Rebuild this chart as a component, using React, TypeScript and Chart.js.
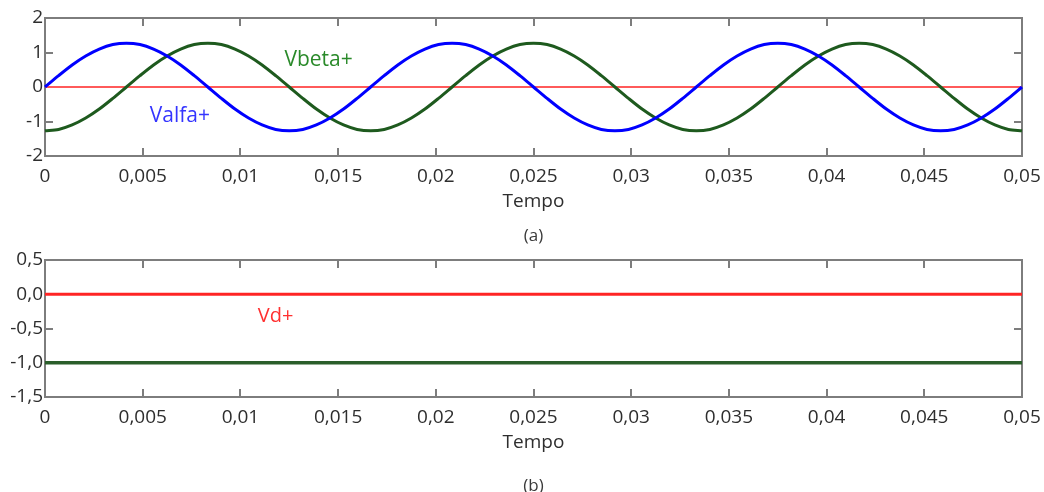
import React, { useEffect, useRef } from 'react';
import { Chart, registerables } from 'chart.js';

Chart.register(...registerables);

// ---------- data ----------
const X_MIN = 0;
const X_MAX = 0.05;
const X_STEP = 0.005;
const SAMPLE_STEP = 0.05 / 72; // sampling grid of the traces (s)

// (a) alpha-beta components (24 samples per 60 Hz cycle)
const valfaPlus = [
  0, 0.33, 0.64, 0.9, 1.1, 1.23, 1.27, 1.23, 1.1, 0.9, 0.64, 0.33,
  0, -0.33, -0.64, -0.9, -1.1, -1.23, -1.27, -1.23, -1.1, -0.9, -0.64, -0.33,
  0, 0.33, 0.64, 0.9, 1.1, 1.23, 1.27, 1.23, 1.1, 0.9, 0.64, 0.33,
  0, -0.33, -0.64, -0.9, -1.1, -1.23, -1.27, -1.23, -1.1, -0.9, -0.64, -0.33,
  0, 0.33, 0.64, 0.9, 1.1, 1.23, 1.27, 1.23, 1.1, 0.9, 0.64, 0.33,
  0, -0.33, -0.64, -0.9, -1.1, -1.23, -1.27, -1.23, -1.1, -0.9, -0.64, -0.33,
  0,
];
const vbetaPlus = [
  -1.27, -1.23, -1.1, -0.9, -0.64, -0.33, 0, 0.33, 0.64, 0.9, 1.1, 1.23,
  1.27, 1.23, 1.1, 0.9, 0.64, 0.33, 0, -0.33, -0.64, -0.9, -1.1, -1.23,
  -1.27, -1.23, -1.1, -0.9, -0.64, -0.33, 0, 0.33, 0.64, 0.9, 1.1, 1.23,
  1.27, 1.23, 1.1, 0.9, 0.64, 0.33, 0, -0.33, -0.64, -0.9, -1.1, -1.23,
  -1.27, -1.23, -1.1, -0.9, -0.64, -0.33, 0, 0.33, 0.64, 0.9, 1.1, 1.23,
  1.27, 1.23, 1.1, 0.9, 0.64, 0.33, 0, -0.33, -0.64, -0.9, -1.1, -1.23,
  -1.27,
];
const constTimes = [0, 0.05];
const zeroRefA = [0, 0];

// (b) dq components
const vdPlus = [0, 0];
const vqPlus = [-1, -1];

const yRangeA = [-2, 2];
const yStepA = 1;
const yRangeB = [-1.5, 0.5];
const yStepB = 0.5;

// ---------- styling ----------
const FONT = '"Open Sans", "Noto Sans", sans-serif';
const TEXT = '#2e2e2e';
const FRAME = '#7d7d7d';
const TICK_LEN = 8;

const fmtX = (v: number) => (Math.abs(v) < 1e-12 ? '0' : String(+v.toFixed(3)).replace('.', ','));
const fmtYA = (v: number) => String(Math.round(v));
const fmtYB = (v: number) => (Math.abs(v) < 1e-9 ? 0 : v).toFixed(1).replace('.', ',');

const pts = (xs: number[], ys: number[]) => ys.map((y, i) => ({ x: xs[i], y }));
const sampleTimes = valfaPlus.map((_, i) => i * SAMPLE_STEP);

type Label = { text: string; x: number; y: number; color: string; size: number };
type Caption = { text: string; dy: number; size: number; color: string };

function makeDecor(labels: Label[], captions: Caption[]) {
  return {
    id: 'decor',
    beforeDatasetsDraw(chart: any) {
      const { ctx, chartArea: a, scales } = chart;
      ctx.save();
      ctx.strokeStyle = FRAME;
      ctx.lineWidth = 2;
      ctx.strokeRect(a.left, a.top, a.right - a.left, a.bottom - a.top);
      ctx.beginPath();
      for (const t of scales.x.ticks) {
        const px = Math.round(scales.x.getPixelForValue(t.value));
        ctx.moveTo(px, a.top);
        ctx.lineTo(px, a.top + TICK_LEN);
        ctx.moveTo(px, a.bottom);
        ctx.lineTo(px, a.bottom - TICK_LEN);
      }
      for (const t of scales.y.ticks) {
        const py = Math.round(scales.y.getPixelForValue(t.value));
        ctx.moveTo(a.left, py);
        ctx.lineTo(a.left + TICK_LEN, py);
        ctx.moveTo(a.right, py);
        ctx.lineTo(a.right - TICK_LEN, py);
      }
      ctx.stroke();
      ctx.restore();
    },
    afterDatasetsDraw(chart: any) {
      const { ctx, chartArea: a, scales } = chart;
      ctx.save();
      ctx.textAlign = 'center';
      ctx.textBaseline = 'middle';
      for (const l of labels) {
        ctx.font = `${l.size}px ${FONT}`;
        ctx.fillStyle = l.color;
        ctx.fillText(l.text, scales.x.getPixelForValue(l.x), scales.y.getPixelForValue(l.y));
      }
      for (const c of captions) {
        ctx.font = `${c.size}px ${FONT}`;
        ctx.fillStyle = c.color;
        ctx.fillText(c.text, (a.left + a.right) / 2, a.bottom + c.dy);
      }
      ctx.restore();
    },
  };
}

function makeConfig(opts: {
  datasets: any[];
  yRange: number[];
  yStep: number;
  fmtY: (v: number) => string;
  padTop: number;
  xHeight: number;
  labels: Label[];
  captions: Caption[];
}) {
  return {
    type: 'line',
    data: { datasets: opts.datasets },
    options: {
      animation: false,
      responsive: false,
      devicePixelRatio: 1,
      layout: { padding: { top: opts.padTop, right: 22, left: 0, bottom: 0 } },
      plugins: { legend: { display: false }, tooltip: { enabled: false } },
      elements: { point: { radius: 0 } },
      scales: {
        x: {
          type: 'linear',
          min: X_MIN,
          max: X_MAX,
          grid: { display: false, drawTicks: false },
          border: { display: false },
          ticks: {
            stepSize: X_STEP,
            autoSkip: false,
            maxRotation: 0,
            padding: 9,
            color: TEXT,
            font: { family: FONT, size: 19 },
            callback: (v: any) => fmtX(Number(v)),
          },
          afterFit: (s: any) => {
            s.height = opts.xHeight;
            s.paddingLeft = 0;
            s.paddingRight = 0;
          },
        },
        y: {
          type: 'linear',
          min: opts.yRange[0],
          max: opts.yRange[1],
          grid: { display: false, drawTicks: false },
          border: { display: false },
          ticks: {
            stepSize: opts.yStep,
            padding: 2,
            color: TEXT,
            font: { family: FONT, size: 19 },
            callback: (v: any) => opts.fmtY(Number(v)),
          },
          afterFit: (s: any) => {
            s.width = 45;
            s.paddingTop = 0;
            s.paddingBottom = 0;
          },
        },
      },
    },
    plugins: [makeDecor(opts.labels, opts.captions)],
  } as any;
}

function ChartCanvas({ config, top, height }: { config: () => any; top: number; height: number }) {
  const ref = useRef<HTMLCanvasElement | null>(null);
  useEffect(() => {
    if (!ref.current) return;
    const chart = new Chart(ref.current, config());
    return () => chart.destroy();
  }, []);
  return (
    <canvas
      ref={ref}
      width={1044}
      height={height}
      style={{ position: 'absolute', left: 0, top, width: 1044, height, display: 'block' }}
    />
  );
}

const configA = () =>
  makeConfig({
    datasets: [
      { label: 'Valfa+', data: pts(sampleTimes, valfaPlus), borderColor: '#0000ff', borderWidth: 3, tension: 0.3, clip: false },
      { label: 'Vbeta+', data: pts(sampleTimes, vbetaPlus), borderColor: '#1e5a1e', borderWidth: 3, tension: 0.3, clip: false },
      { label: 'ref', data: pts(constTimes, zeroRefA), borderColor: '#ff5a5a', borderWidth: 2, clip: false },
    ],
    yRange: yRangeA,
    yStep: yStepA,
    fmtY: fmtYA,
    padTop: 18,
    xHeight: 94,
    labels: [
      { text: 'Valfa+', x: 0.0069, y: -0.83, color: '#3535ff', size: 21 },
      { text: 'Vbeta+', x: 0.014, y: 0.77, color: '#2a8a2a', size: 21 },
    ],
    captions: [
      { text: 'Tempo', dy: 46, size: 19, color: TEXT },
      { text: '(a)', dy: 80, size: 17, color: '#3a3a3a' },
    ],
  });

const configB = () =>
  makeConfig({
    datasets: [
      { label: 'Vd+', data: pts(constTimes, vdPlus), borderColor: '#ff2424', borderWidth: 3, clip: false },
      { label: 'Vq+', data: pts(constTimes, vqPlus), borderColor: '#2a5e2a', borderWidth: 3.5, clip: false },
    ],
    yRange: yRangeB,
    yStep: yStepB,
    fmtY: fmtYB,
    padTop: 15,
    xHeight: 95,
    labels: [{ text: 'Vd+', x: 0.0118, y: -0.32, color: '#ff3030', size: 20 }],
    captions: [
      { text: 'Tempo', dy: 46, size: 19, color: TEXT },
      { text: '(b)', dy: 89, size: 17, color: '#3a3a3a' },
    ],
  });

export default function App() {
  return (
    <div style={{ position: 'absolute', left: 0, top: 0, width: 1044, height: 492, background: '#ffffff', overflow: 'hidden' }}>
      <ChartCanvas config={configA} top={0} height={250} />
      <ChartCanvas config={configB} top={245} height={247} />
    </div>
  );
}
